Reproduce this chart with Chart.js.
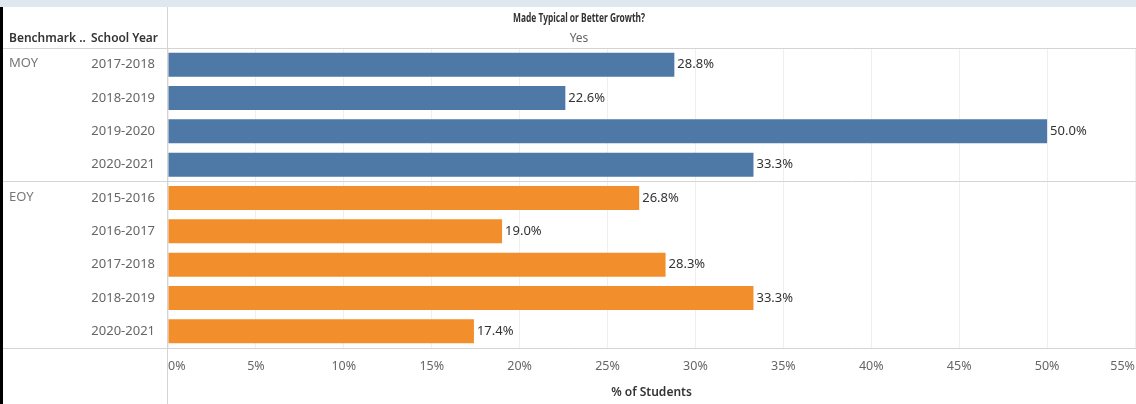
<!DOCTYPE html>
<html>
<head>
<meta charset="utf-8">
<script src="https://cdn.jsdelivr.net/npm/chart.js@4/dist/chart.umd.min.js"></script>
<style>
html, body { margin: 0; padding: 0; background: #fff; }
#wrap { width: 1136px; height: 404px; }
</style>
</head>
<body>
<div id="wrap"><canvas id="myChart" width="1136" height="404"></canvas></div>
<script>
// values
const benchmarks = ['MOY', 'MOY', 'MOY', 'MOY', 'EOY', 'EOY', 'EOY', 'EOY', 'EOY'];
const schoolYears = ['2017-2018', '2018-2019', '2019-2020', '2020-2021',
  '2015-2016', '2016-2017', '2017-2018', '2018-2019', '2020-2021'];
const pctStudents = [28.8, 22.6, 50.0, 33.3, 26.8, 19.0, 28.3, 33.3, 17.4];
const xTickMax = 55;
const xTickStep = 5;

const benchColors = { MOY: '#4e79a7', EOY: '#f28e2b' };
const FONT = '"Noto Sans", "Open Sans", sans-serif';
const NARROW = '"Liberation Sans Narrow", "Noto Sans", sans-serif';

// draws the Tableau-ish frame, headers, row group labels and bar value labels
const tablePlugin = {
  id: 'tablePlugin',
  beforeDraw(chart) {
    const ctx = chart.ctx;
    ctx.save();
    ctx.fillStyle = '#fff';
    ctx.fillRect(0, 0, chart.width, chart.height);
    ctx.fillStyle = '#dde8ef';
    ctx.fillRect(0, 0, chart.width, 7);
    ctx.restore();
  },
  afterDraw(chart) {
    const ctx = chart.ctx;
    const area = chart.chartArea;
    const yScale = chart.scales.y;
    const xScale = chart.scales.x;
    ctx.save();

    // frame lines
    ctx.strokeStyle = '#d4d4d4';
    ctx.lineWidth = 1;
    const hLine = (y) => {
      ctx.beginPath();
      ctx.moveTo(3, Math.round(y) + 0.5);
      ctx.lineTo(chart.width, Math.round(y) + 0.5);
      ctx.stroke();
    };
    hLine(area.top);
    hLine(area.bottom);
    for (let i = 1; i < benchmarks.length; i++) {
      if (benchmarks[i] !== benchmarks[i - 1]) {
        hLine((yScale.getPixelForValue(i - 1) + yScale.getPixelForValue(i)) / 2);
      }
    }
    ctx.beginPath();
    ctx.moveTo(Math.round(area.left) - 0.5, 7);
    ctx.lineTo(Math.round(area.left) - 0.5, chart.height);
    ctx.stroke();

    // black left edge
    ctx.fillStyle = '#000';
    ctx.fillRect(0, 7, 3, chart.height - 7);

    // headers
    ctx.textBaseline = 'middle';
    ctx.fillStyle = '#333';
    ctx.font = '600 12px ' + FONT;
    ctx.textAlign = 'left';
    ctx.fillText('Benchmark ..', 9, 39, 77);
    ctx.fillText('School Year', 91, 39, 67);
    ctx.textAlign = 'center';
    ctx.font = 'bold 12.5px ' + NARROW;
    ctx.fillText('Made Typical or Better Growth?', 579, 18, 132);
    ctx.fillStyle = '#666';
    ctx.font = '12px ' + FONT;
    ctx.fillText('Yes', 579, 39);

    // group labels
    ctx.textAlign = 'left';
    ctx.font = '13px ' + FONT;
    ctx.fillStyle = '#777';
    for (let i = 0; i < benchmarks.length; i++) {
      if (i === 0 || benchmarks[i] !== benchmarks[i - 1]) {
        ctx.fillText(benchmarks[i], 9, yScale.getPixelForValue(i) - 1);
      }
    }

    // value labels
    ctx.fillStyle = '#333';
    ctx.font = '13px ' + FONT;
    pctStudents.forEach((v, i) => {
      ctx.fillText(v.toFixed(1) + '%', xScale.getPixelForValue(v) + 3, yScale.getPixelForValue(i));
    });
    ctx.restore();
  }
};

const ctx = document.getElementById('myChart').getContext('2d');
const myChart = new Chart(ctx, {
  type: 'bar',
  data: {
    labels: schoolYears,
    datasets: [{
      label: '% of Students',
      data: pctStudents,
      backgroundColor: benchmarks.map(b => benchColors[b]),
      categoryPercentage: 1,
      barPercentage: 0.72
    }]
  },
  options: {
    indexAxis: 'y',
    responsive: false,
    devicePixelRatio: 1,
    animation: false,
    layout: { padding: { top: 48, right: 1, left: 0, bottom: 0 } },
    plugins: {
      legend: { display: false },
      tooltip: { enabled: false }
    },
    scales: {
      x: {
        min: 0,
        max: xTickMax,
        ticks: {
          stepSize: xTickStep,
          align: 'inner',
          padding: 11,
          color: '#666',
          font: { family: FONT, size: 12.5 },
          callback: v => v + '%'
        },
        grid: { color: '#efefef', drawTicks: false },
        border: { display: false },
        title: {
          display: true,
          text: '% of Students',
          color: '#333',
          font: { family: FONT, size: 12, weight: '600' },
          padding: { top: 4, bottom: 4 }
        },
        afterFit(scale) {
          scale.height = 56;
          scale.paddingRight = 0;
          scale.paddingLeft = 0;
        }
      },
      y: {
        ticks: {
          color: '#666',
          padding: 13,
          font: { family: FONT, size: 13 }
        },
        grid: { display: false, drawTicks: false },
        border: { display: false },
        afterFit(scale) { scale.width = 168; }
      }
    }
  },
  plugins: [tablePlugin]
});
</script>
</body>
</html>
